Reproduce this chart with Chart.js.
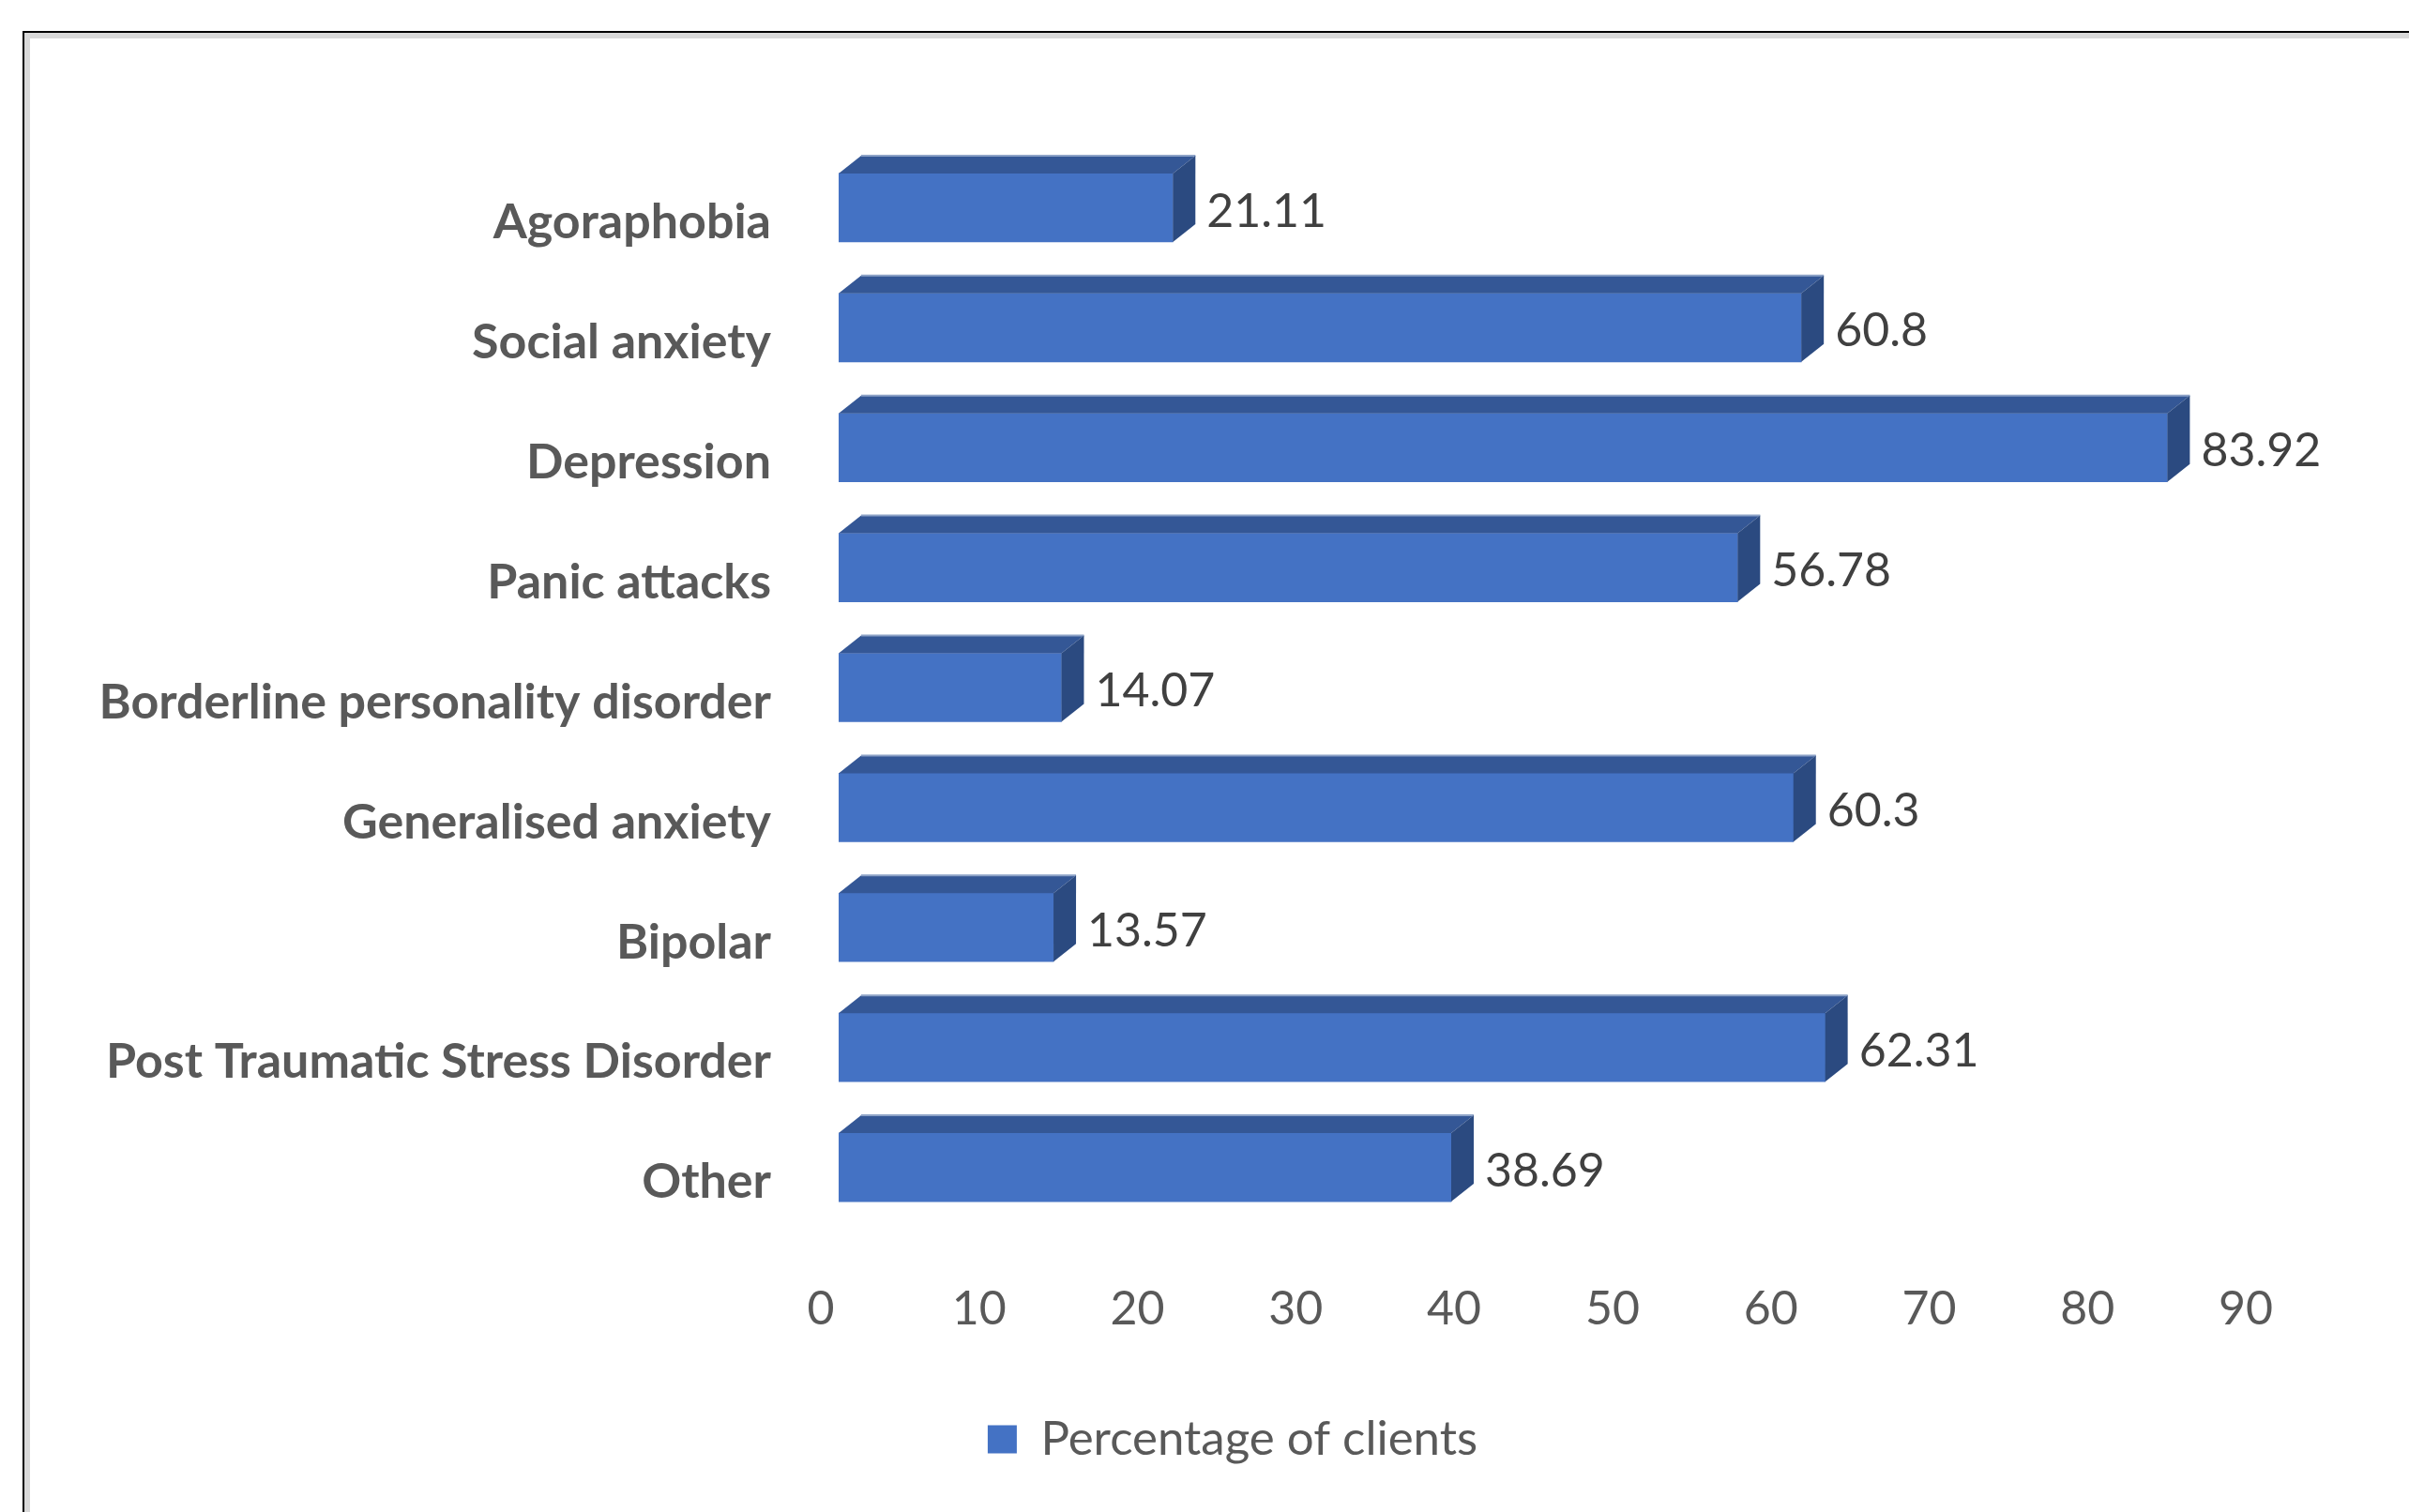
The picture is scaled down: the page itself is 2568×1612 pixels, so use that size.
<!DOCTYPE html>
<html>
<head>
<meta charset="utf-8">
<script src="https://cdn.jsdelivr.net/npm/chart.js@4/dist/chart.umd.min.js"></script>
<style>
  html, body { margin:0; padding:0; background:#fff; overflow:hidden; }
  /* outer frame: black rule + grey inner band, runs off right/bottom */
  #frame { position:absolute; left:24px; top:33px; width:3000px; height:2000px;
           border-top:2px solid #000; border-left:2px solid #000;
           box-shadow: inset 6px 6px 0 0 #d9d9d9; }
  #wrap { position:absolute; left:0; top:0; width:2568px; height:1612px; }
</style>
</head>
<body>
<div id="frame"></div>
<div id="wrap"><canvas id="chart" width="2568" height="1612"></canvas></div>
<script>
/* ── Data ─────────────────────────────────────────── */
const categories = [
  'Agoraphobia',
  'Social anxiety',
  'Depression',
  'Panic attacks',
  'Borderline personality disorder',
  'Generalised anxiety',
  'Bipolar',
  'Post Traumatic Stress Disorder',
  'Other'
];
const values = [21.11, 60.8, 83.92, 56.78, 14.07, 60.3, 13.57, 62.31, 38.69];
const xTicks = [0, 10, 20, 30, 40, 50, 60, 70, 80, 90];
const seriesName = 'Percentage of clients';

/* ── Look ─────────────────────────────────────────── */
const FRONT = '#4472c4', TOP = '#345796', SIDE = '#2b4a80', EDGE = '#8ea3c7';
const DX = 24, DY = 19;
const FONT = 'Lato, "Open Sans", sans-serif';
const LEGEND_SHIFT = 107.5;   // Excel centres the legend a bit right of the canvas middle

/* draws the Excel-like depth faces and the value labels */
const bar3d = {
  id: 'bar3d',
  afterLayout(chart) {
    chart.legend.left += LEGEND_SHIFT;
    chart.legend.right += LEGEND_SHIFT;
  },
  afterDatasetsDraw(chart) {
    const ctx = chart.ctx;
    chart.getDatasetMeta(0).data.forEach((bar, i) => {
      const { x, y, base, height } = bar.getProps(['x', 'y', 'base', 'height'], true);
      const t = y - height / 2, b = y + height / 2;
      ctx.save();
      // top face
      ctx.fillStyle = TOP;
      ctx.beginPath();
      ctx.moveTo(base, t); ctx.lineTo(base + DX, t - DY);
      ctx.lineTo(x + DX, t - DY); ctx.lineTo(x, t); ctx.closePath();
      ctx.fill();
      ctx.strokeStyle = EDGE; ctx.lineWidth = 2;
      ctx.beginPath(); ctx.moveTo(base + DX, t - DY); ctx.lineTo(x + DX, t - DY); ctx.stroke();
      // side face
      ctx.fillStyle = SIDE;
      ctx.beginPath();
      ctx.moveTo(x, t); ctx.lineTo(x + DX, t - DY);
      ctx.lineTo(x + DX, b - DY); ctx.lineTo(x, b); ctx.closePath();
      ctx.fill();
      // value label
      ctx.fillStyle = '#404040';
      ctx.font = '50px ' + FONT;
      ctx.textAlign = 'left';
      ctx.textBaseline = 'middle';
      ctx.fillText(String(values[i]), x + 36, y + 4);
      ctx.restore();
    });
  }
};

new Chart(document.getElementById('chart'), {
  type: 'bar',
  data: {
    labels: categories,
    datasets: [{
      label: seriesName,
      data: values,
      backgroundColor: FRONT,
      borderColor: FRONT,
      borderWidth: 0,
      barThickness: 73
    }]
  },
  options: {
    indexAxis: 'y',
    responsive: false,
    animation: false,
    devicePixelRatio: 1,
    layout: { padding: { left: 0, right: 155, top: 157.5, bottom: 42 } },
    plugins: {
      tooltip: { enabled: false },
      legend: {
        position: 'bottom',
        labels: {
          color: '#595959',
          font: { family: FONT, size: 51 },
          boxWidth: 31,
          boxHeight: 30,
          padding: 10
        }
      }
    },
    scales: {
      x: {
        min: 0, max: 90,
        afterBuildTicks: s => { s.ticks = xTicks.map(v => ({ value: v })); },
        afterFit: s => { s.height = 190.5; },
        grid: { display: false, drawTicks: false },
        border: { display: false },
        ticks: {
          color: '#595959',
          font: { family: FONT, size: 50 },
          padding: 57.5,
          labelOffset: -19,
          maxRotation: 0
        }
      },
      y: {
        afterFit: s => { s.width = 894; },
        grid: { display: false, drawTicks: false },
        border: { display: false },
        ticks: {
          color: '#595959',
          font: { family: FONT, size: 52, weight: 'bold' },
          padding: 72,
          labelOffset: 16
        }
      }
    }
  },
  plugins: [bar3d]
});
</script>
</body>
</html>
